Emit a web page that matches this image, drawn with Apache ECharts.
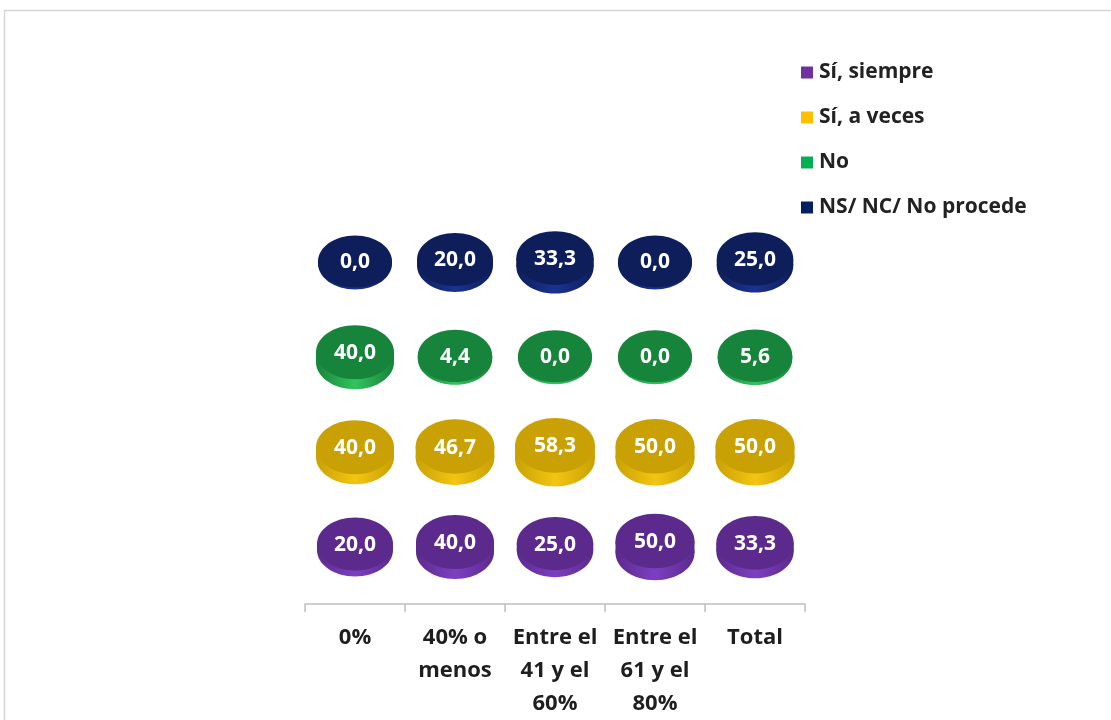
<!DOCTYPE html>
<html>
<head>
<meta charset="utf-8">
<script src="https://cdn.jsdelivr.net/npm/echarts@6/dist/echarts.min.js"></script>
<style>
  html, body { margin: 0; padding: 0; background: #fff; }
  #chart { width: 1111px; height: 720px; }
</style>
</head>
<body>
<div id="chart"></div>
<script>
// Categories along the horizontal axis
const categories = ['0%', '40% o\nmenos', 'Entre el\n41 y el\n60%', 'Entre el\n61 y el\n80%', 'Total'];

// Answer groups, bottom row first
const seriesNames = ['Sí, siempre', 'Sí, a veces', 'No', 'NS/ NC/ No procede'];

// Percentages per category
const siSiempre = [20.0, 40.0, 25.0, 50.0, 33.3];
const siAVeces  = [40.0, 46.7, 58.3, 50.0, 50.0];
const noValues  = [40.0, 4.4, 0.0, 0.0, 5.6];
const nsNc      = [0.0, 20.0, 33.3, 0.0, 25.0];

const seriesValues = [siSiempre, siAVeces, noValues, nsNc];

// legend colour, top face, side
const palette = [
  { legend: '#7030a0', top: '#5b2a8c', side: '#7d3fc2' },
  { legend: '#ffc000', top: '#c9a104', side: '#f3c512' },
  { legend: '#00b050', top: '#17843b', side: '#33c35e' },
  { legend: '#002060', top: '#0e1e5a', side: '#1b3292' }
];

const FONT = '"Open Sans", Lato, sans-serif';
const fmt = v => v.toFixed(1).replace('.', ',');

function makeRender(pal) {
  return function (params, api) {
    const c = api.coord([api.value(0), api.value(1)]);
    const v = api.value(2);
    const rx = 37 + v * 0.05;
    const ry = 26 + v * 0.025;
    const t = 2 + v * 0.2;
    const cx = c[0];
    const topY = c[1] - t / 2;
    const botY = c[1] + t / 2;
    const sideFill = new echarts.graphic.LinearGradient(0, 0, 1, 0, [
      { offset: 0, color: pal.top },
      { offset: 0.5, color: pal.side },
      { offset: 1, color: pal.top }
    ]);
    return {
      type: 'group',
      children: [
        { type: 'ellipse', shape: { cx: cx, cy: botY, rx: rx, ry: ry }, style: { fill: sideFill } },
        { type: 'rect', shape: { x: cx - rx, y: topY, width: rx * 2, height: botY - topY }, style: { fill: sideFill } },
        { type: 'ellipse', shape: { cx: cx, cy: topY, rx: rx, ry: ry }, style: { fill: pal.top } },
        {
          type: 'text',
          x: cx, y: topY + 1,
          style: {
            text: fmt(v), fill: '#ffffff',
            font: 'bold 21px ' + FONT,
            align: 'center', verticalAlign: 'middle'
          }
        }
      ]
    };
  };
}

const series = seriesNames.map((name, si) => ({
  name: name,
  type: 'custom',
  itemStyle: { color: palette[si].legend },
  renderItem: makeRender(palette[si]),
  encode: { x: 0, y: 1 },
  data: seriesValues[si].map((v, ci) => [ci, si + 1, v]),
  z: 4 - si
}));

const chart = echarts.init(document.getElementById('chart'), null, { renderer: 'canvas' });
chart.setOption({
  animation: false,
  backgroundColor: '#ffffff',
  graphic: [{
    type: 'rect', silent: true, z: -10,
    shape: { x: 4.5, y: 10.5, width: 1200, height: 800 },
    style: { fill: 'none', stroke: '#d6d6d6', lineWidth: 1.5 }
  }],
  grid: { left: 305, right: 306, top: 215, bottom: 115 },
  legend: {
    orient: 'vertical',
    left: 796, top: 54,
    itemWidth: 12, itemHeight: 12, itemGap: 18,
    icon: 'rect',
    data: seriesNames,
    textStyle: { fontSize: 21, fontWeight: 'bold', color: '#222222', fontFamily: FONT, lineHeight: 27, padding: [0, 0, 0, 1] }
  },
  xAxis: {
    type: 'category',
    data: categories,
    boundaryGap: true,
    axisLine: { lineStyle: { color: '#bfbfbf', width: 1.5 } },
    axisTick: { show: true, length: 8, lineStyle: { color: '#bfbfbf', width: 1.5 } },
    axisLabel: {
      interval: 0, margin: 17, fontSize: 22, fontWeight: 'bold',
      lineHeight: 33, color: '#1e1e1e', fontFamily: FONT
    }
  },
  yAxis: {
    type: 'value', min: 0.4, max: 4.5, show: false,
    splitLine: { show: false }
  },
  series: series
});
</script>
</body>
</html>
